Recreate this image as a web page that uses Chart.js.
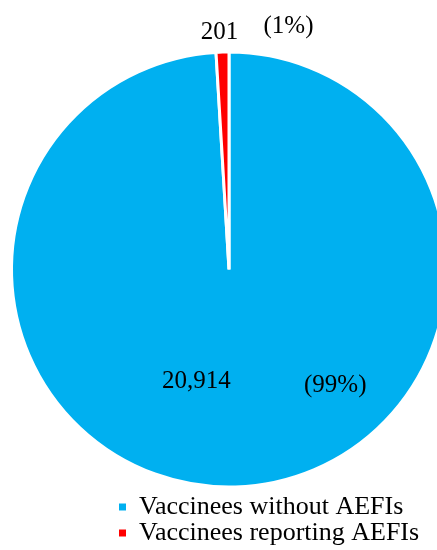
<!DOCTYPE html>
<html>
<head>
<meta charset="utf-8">
<script src="https://cdn.jsdelivr.net/npm/chart.js@4/dist/chart.umd.min.js"></script>
<style>
    html, body { margin: 0; padding: 0; background: #fff; overflow: hidden; }
    #wrap { position: relative; width: 448px; height: 556px; }
</style>
</head>
<body>
<div id="wrap"><canvas id="aefiChart"></canvas></div>
<script>
const categories = ['Vaccinees without AEFIs', 'Vaccinees reporting AEFIs'];
const counts = [20914, 201];
const sliceColors = ['#00B0F0', '#FF0000'];

const total = counts.reduce((a, b) => a + b, 0);
const fontFamily = '"Liberation Serif", "Times New Roman", serif';

// where each slice's two labels sit, relative to a point on the slice's mid-angle
const labelPlacement = [
    { radius: 0.5, count: { dx: -36, dy: 10 }, pct: { dx: 103, dy: 14 } },
    { radius: 1.0, count: { dx: -3, dy: -13 }, pct: { dx: 66, dy: -19 } }
];

const sliceLabels = {
    id: 'sliceLabels',
    afterDatasetsDraw(chart) {
        const { ctx } = chart;
        const meta = chart.getDatasetMeta(0);
        ctx.save();
        ctx.font = '25px ' + fontFamily;
        ctx.fillStyle = '#000';
        ctx.textAlign = 'center';
        ctx.textBaseline = 'alphabetic';
        meta.data.forEach((arc, i) => {
            const p = arc.getProps(['x', 'y', 'startAngle', 'endAngle', 'outerRadius']);
            const mid = (p.startAngle + p.endAngle) / 2;
            const r = p.outerRadius * labelPlacement[i].radius;
            const ax = p.x + Math.cos(mid) * r;
            const ay = p.y + Math.sin(mid) * r;
            const value = counts[i];
            const pct = Math.round(value / total * 100);
            const pl = labelPlacement[i];
            ctx.fillText(value.toLocaleString('en-US'), ax + pl.count.dx, ay + pl.count.dy);
            ctx.fillText('(' + pct + '%)', ax + pl.pct.dx, ay + pl.pct.dy);
        });
        ctx.restore();
    }
};

// legend rows start further right than the pie's left edge
const legendShift = {
    id: 'legendShift',
    afterLayout(chart) {
        const lg = chart.legend;
        const dx = 119 - lg.left;
        lg.left += dx;
        lg.right += dx;
    }
};

new Chart(document.getElementById('aefiChart'), {
    type: 'pie',
    data: {
        labels: categories,
        datasets: [{
            data: counts,
            backgroundColor: sliceColors,
            borderColor: '#fff',
            borderWidth: 3
        }]
    },
    options: {
        responsive: true,
        maintainAspectRatio: false,
        animation: false,
        layout: { padding: { left: 10, right: 0, top: 45, bottom: 0 } },
        plugins: {
            tooltip: { enabled: false },
            legend: {
                position: 'bottom',
                align: 'start',
                labels: {
                    boxWidth: 7,
                    boxHeight: 7,
                    padding: 0,
                    color: '#000',
                    font: { family: fontFamily, size: 26 },
                    generateLabels: chart =>
                        Chart.overrides.pie.plugins.legend.labels.generateLabels(chart)
                            .map(l => ({ ...l, lineWidth: 0 }))
                }
            }
        }
    },
    plugins: [sliceLabels, legendShift]
});
</script>
</body>
</html>
